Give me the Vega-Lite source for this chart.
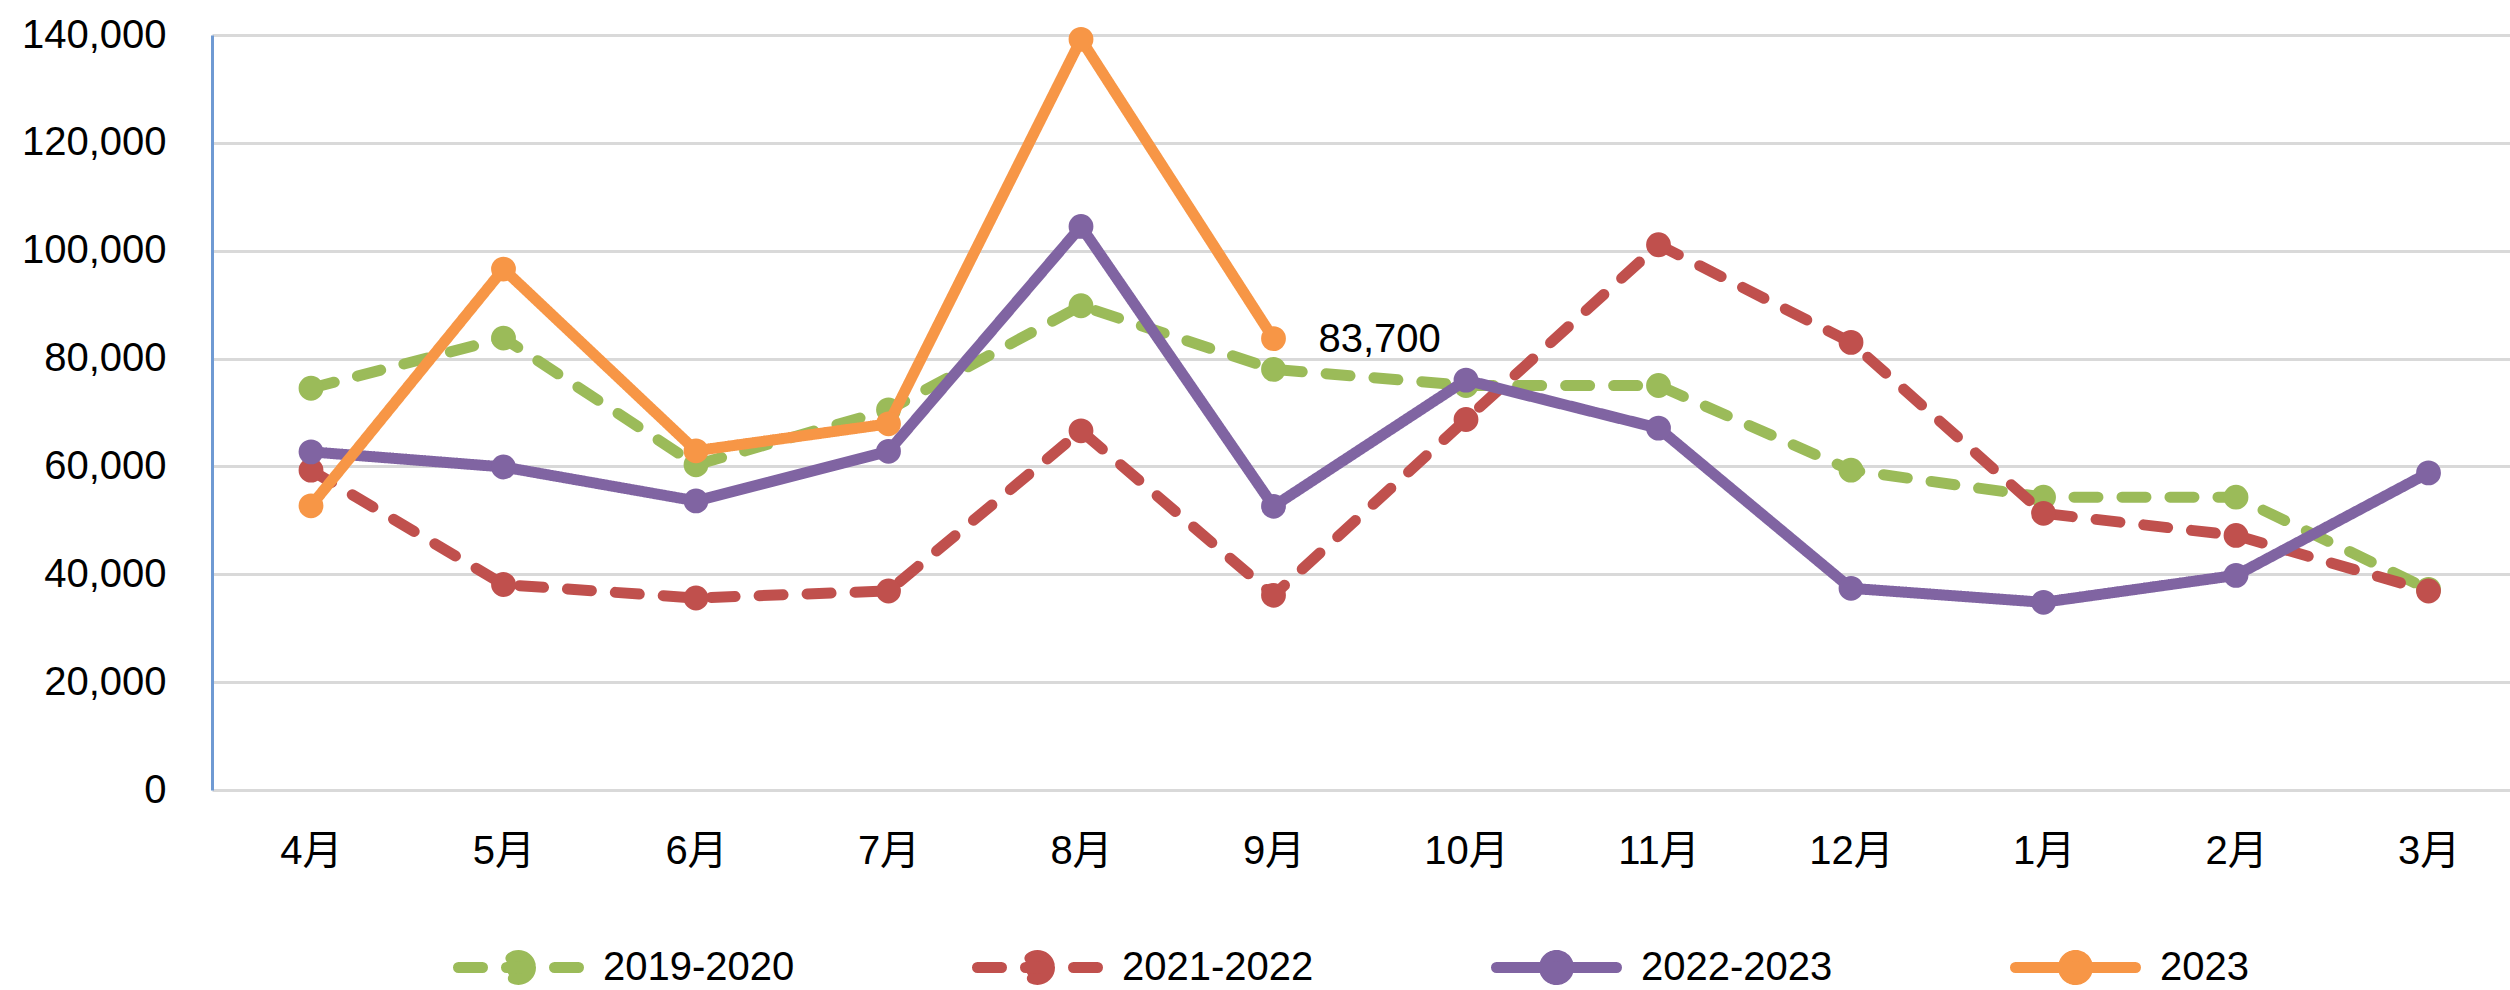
{
  "$schema": "https://vega.github.io/schema/vega-lite/v6.json",
  "autosize": {"type": "none"},
  "padding": {"left": 212, "top": 35, "right": 0, "bottom": 200},
  "width": 2298,
  "height": 755,
  "background": "white",
  "config": {"view": {"stroke": null}, "font": "Liberation Sans"},
  "data": {"values": [
    {"series": "2019-2020", "month": "4月", "value": 74500},
    {"series": "2019-2020", "month": "5月", "value": 83800},
    {"series": "2019-2020", "month": "6月", "value": 60300},
    {"series": "2019-2020", "month": "7月", "value": 70500},
    {"series": "2019-2020", "month": "8月", "value": 89800},
    {"series": "2019-2020", "month": "9月", "value": 78000},
    {"series": "2019-2020", "month": "10月", "value": 75000},
    {"series": "2019-2020", "month": "11月", "value": 75000},
    {"series": "2019-2020", "month": "12月", "value": 59300},
    {"series": "2019-2020", "month": "1月", "value": 54300},
    {"series": "2019-2020", "month": "2月", "value": 54300},
    {"series": "2019-2020", "month": "3月", "value": 37200},
    {"series": "2021-2022", "month": "4月", "value": 59300},
    {"series": "2021-2022", "month": "5月", "value": 38100},
    {"series": "2021-2022", "month": "6月", "value": 35600},
    {"series": "2021-2022", "month": "7月", "value": 36900},
    {"series": "2021-2022", "month": "8月", "value": 66600},
    {"series": "2021-2022", "month": "9月", "value": 36100},
    {"series": "2021-2022", "month": "10月", "value": 68700},
    {"series": "2021-2022", "month": "11月", "value": 101100},
    {"series": "2021-2022", "month": "12月", "value": 83000},
    {"series": "2021-2022", "month": "1月", "value": 51300},
    {"series": "2021-2022", "month": "2月", "value": 47200},
    {"series": "2021-2022", "month": "3月", "value": 36900},
    {"series": "2022-2023", "month": "4月", "value": 62700},
    {"series": "2022-2023", "month": "5月", "value": 59900},
    {"series": "2022-2023", "month": "6月", "value": 53600},
    {"series": "2022-2023", "month": "7月", "value": 62800},
    {"series": "2022-2023", "month": "8月", "value": 104500},
    {"series": "2022-2023", "month": "9月", "value": 52600},
    {"series": "2022-2023", "month": "10月", "value": 76000},
    {"series": "2022-2023", "month": "11月", "value": 67100},
    {"series": "2022-2023", "month": "12月", "value": 37400},
    {"series": "2022-2023", "month": "1月", "value": 34800},
    {"series": "2022-2023", "month": "2月", "value": 39800},
    {"series": "2022-2023", "month": "3月", "value": 58800},
    {"series": "2023", "month": "4月", "value": 52700},
    {"series": "2023", "month": "5月", "value": 96600},
    {"series": "2023", "month": "6月", "value": 62900},
    {"series": "2023", "month": "7月", "value": 67900},
    {"series": "2023", "month": "8月", "value": 139200},
    {"series": "2023", "month": "9月", "value": 83700}
  ]},
  "encoding": {
    "x": {
      "field": "month", "type": "ordinal",
      "sort": ["4月", "5月", "6月", "7月", "8月", "9月", "10月", "11月", "12月", "1月", "2月", "3月"],
      "scale": {"type": "point", "padding": 0.4688, "align": 0.5485},
      "axis": {"title": null, "labelAngle": 0, "labelFont": "Liberation Sans, Noto Sans CJK JP", "labelFontSize": 40, "labelColor": "black", "labelPadding": 41, "ticks": false, "domain": false, "grid": false, "labelDx": -5}
    },
    "y": {
      "field": "value", "type": "quantitative",
      "scale": {"domain": [0, 140000], "nice": false},
      "axis": {"title": null, "values": [0, 20000, 40000, 60000, 80000, 100000, 120000, 140000], "format": ",.0f", "labelFont": "Liberation Sans", "labelFontSize": 40, "labelColor": "black", "labelPadding": 46, "ticks": false, "domain": true, "domainColor": "#6f9ad3", "domainWidth": 3, "grid": true, "gridColor": "#d9d9d9", "gridWidth": 3}
    },
    "color": {
      "field": "series", "type": "nominal",
      "scale": {"domain": ["2019-2020", "2021-2022", "2022-2023", "2023"], "range": ["#9BBB59", "#C0504D", "#8064A2", "#F79646"]},
      "legend": {
        "orient": "none", "legendX": 286.5, "legendY": 912.5, "direction": "horizontal", "columns": 4,
        "title": null, "padding": 0,
        "symbolType": "M-5,0L5,0M1,0A1,1,0,1,1,-1,0A1,1,0,1,1,1,0Z",
        "symbolSize": 576, "symbolStrokeWidth": 11,
        "labelFontSize": 40, "labelFont": "Liberation Sans", "labelColor": "black", "labelOffset": 64.5, "labelLimit": 500,
        "columnPadding": 161,
        "encode": {"symbols": {"update": {"fill": {"scale": "color", "field": "value"}, "stroke": {"scale": "color", "field": "value"}, "strokeCap": {"value": "round"}, "opacity": {"value": 1}}}}
      }
    }
  },
  "layer": [
    {
      "transform": [{"filter": "datum.series === '2019-2020'"}],
      "layer": [
        {"mark": {"type": "line", "strokeWidth": 11, "strokeCap": "round", "strokeJoin": "round"},
         "encoding": {"strokeDash": {"field": "series", "type": "nominal", "scale": {"domain": ["2019-2020", "2021-2022", "2022-2023", "2023"], "range": [[24, 24], [24, 24], [1, 0], [1, 0]]}, "legend": {"orient": "none", "legendX": 286.5, "legendY": 912.5, "direction": "horizontal", "columns": 4, "title": null, "padding": 0, "symbolType": "M-5,0L5,0M1,0A1,1,0,1,1,-1,0A1,1,0,1,1,1,0Z", "symbolSize": 576, "symbolStrokeWidth": 11, "labelFontSize": 40, "labelFont": "Liberation Sans", "labelColor": "black", "labelOffset": 64.5, "labelLimit": 500, "columnPadding": 161}}}},
        {"mark": {"type": "point", "filled": true, "size": 616, "opacity": 1}}
      ]
    },
    {
      "transform": [{"filter": "datum.series === '2021-2022'"}],
      "layer": [
        {"mark": {"type": "line", "strokeWidth": 11, "strokeCap": "round", "strokeJoin": "round"},
         "encoding": {"strokeDash": {"field": "series", "type": "nominal"}}},
        {"mark": {"type": "point", "filled": true, "size": 616, "opacity": 1}}
      ]
    },
    {
      "transform": [{"filter": "datum.series === '2022-2023'"}],
      "layer": [
        {"mark": {"type": "line", "strokeWidth": 11, "strokeCap": "round", "strokeJoin": "round"},
         "encoding": {"strokeDash": {"field": "series", "type": "nominal"}}},
        {"mark": {"type": "point", "filled": true, "size": 616, "opacity": 1}}
      ]
    },
    {
      "transform": [{"filter": "datum.series === '2023'"}],
      "layer": [
        {"mark": {"type": "line", "strokeWidth": 11, "strokeCap": "round", "strokeJoin": "round"},
         "encoding": {"strokeDash": {"field": "series", "type": "nominal"}}},
        {"mark": {"type": "point", "filled": true, "size": 616, "opacity": 1}}
      ]
    },
    {
      "transform": [{"filter": "datum.series === '2023' && datum.month === '9月'"}],
      "mark": {"type": "text", "align": "left", "baseline": "middle", "dx": 45, "dy": 1, "fontSize": 40, "font": "Liberation Sans"},
      "encoding": {"text": {"field": "value", "type": "quantitative", "format": ","}, "color": {"value": "black"}}
    }
  ]
}
